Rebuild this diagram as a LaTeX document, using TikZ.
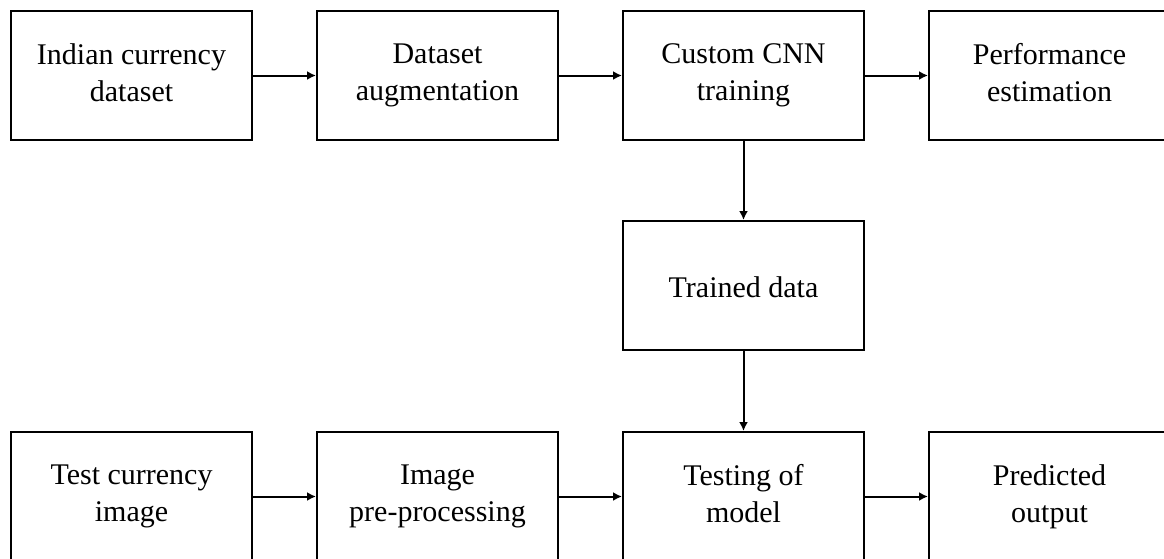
\documentclass[tikz,border=0pt]{standalone}
\usepackage{fontspec}
\setmainfont{Liberation Serif}
\usetikzlibrary{arrows.meta,positioning}
\tikzset{
  flowbox/.style={
    draw,
    line width=2pt,
    minimum width=241pt,
    minimum height=129pt,
    inner sep=0pt,
    align=center,
    font=\fontsize{30}{37}\selectfont,
    execute at begin node=\rule{0pt}{29pt},
    execute at end node=\rule[-6pt]{0pt}{6pt}
  },
  flowarrow/.style={-{Latex[length=9pt,width=9pt]}, line width=2pt}
}
\begin{document}
\begin{tikzpicture}[
  x=1pt, y=1pt,
  node distance=79pt and 63pt
]
\useasboundingbox (0,0) rectangle (1164,-558);
\node[flowbox] (dataset) at (131.5,-75.5) {Indian currency\\dataset};
\node[flowbox, right=of dataset] (augment) {Dataset\\augmentation};
\node[flowbox, right=of augment] (training) {Custom CNN\\training};
\node[flowbox, right=of training] (perform) {Performance\\estimation};
\node[flowbox, below=of training] (trained) {Trained data};
\node[flowbox, below=80pt of trained] (testing) {Testing of\\model};
\node[flowbox, left=of testing] (preproc) {Image\\pre-processing};
\node[flowbox, left=of preproc] (testimg) {Test currency\\image};
\node[flowbox, right=of testing] (predict) {Predicted\\output};
\draw[flowarrow] (dataset) -- (augment);
\draw[flowarrow] (augment) -- (training);
\draw[flowarrow] (training) -- (perform);
\draw[flowarrow] (training) -- (trained);
\draw[flowarrow] (trained) -- (testing);
\draw[flowarrow] (testimg) -- (preproc);
\draw[flowarrow] (preproc) -- (testing);
\draw[flowarrow] (testing) -- (predict);
\end{tikzpicture}
\end{document}
